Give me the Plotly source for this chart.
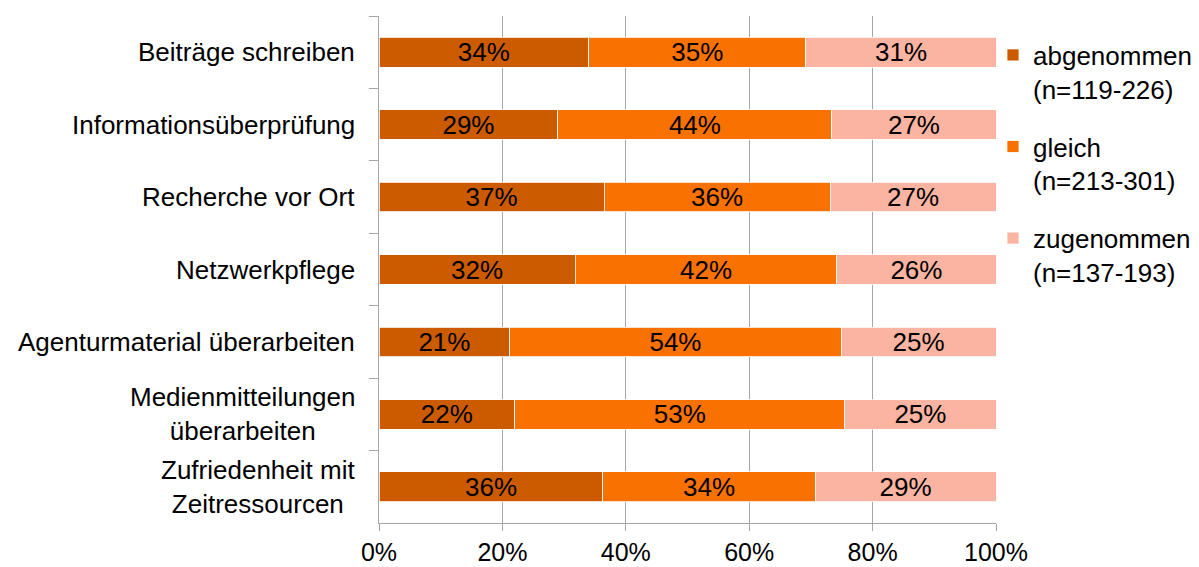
import plotly.graph_objects as go

categories = ["Beiträge schreiben", "Informationsüberprüfung", "Recherche vor Ort",
              "Netzwerkpflege", "Agenturmaterial überarbeiten",
              "Medienmitteilungen<br>überarbeiten", "Zufriedenheit mit<br>Zeitressourcen"]
cat_ids = ["c1", "c2", "c3", "c4", "c5", "c6", "c7"]

abgenommen = [34.0, 29.0, 36.5, 31.8, 21.2, 22.0, 36.3]
gleich = [35.2, 44.4, 36.6, 42.4, 53.7, 53.5, 34.4]
zugenommen = [30.8, 26.6, 26.9, 25.8, 25.1, 24.5, 29.3]

abgenommen_lbl = ["34%", "29%", "37%", "32%", "21%", "22%", "36%"]
gleich_lbl = ["35%", "44%", "36%", "42%", "54%", "53%", "34%"]
zugenommen_lbl = ["31%", "27%", "27%", "26%", "25%", "25%", "29%"]

series_names = ["abgenommen<br>(n=119-226)", "gleich<br>(n=213-301)", "zugenommen<br>(n=137-193)"]
colors = ["#CC5B00", "#F97100", "#FBB4A2"]

x_ticks = [0, 20, 40, 60, 80, 100]
x_tick_labels = ["0%", "20%", "40%", "60%", "80%", "100%"]

FONT = "Liberation Sans, Arial, sans-serif"
fig = go.Figure()
for i, (vals, lbls) in enumerate([(abgenommen, abgenommen_lbl), (gleich, gleich_lbl), (zugenommen, zugenommen_lbl)]):
    fig.add_trace(go.Bar(
        y=cat_ids, x=vals, orientation="h", name=series_names[i],
        legendgroup=f"g{i}",
        marker=dict(color=colors[i], line=dict(color="white", width=0.8)),
        text=lbls, textposition="inside", insidetextanchor="middle",
        constraintext="none", cliponaxis=False,
        textfont=dict(color="black", size=26, family=FONT),
        hoverinfo="skip",
    ))

for cid, lab in zip(cat_ids, categories):
    fig.add_annotation(x=0, xref="paper", y=cid, yref="y", text=lab,
                       showarrow=False, xanchor="right", xshift=-22, align="center",
                       font=dict(size=26, family=FONT, color="black"))

fig.update_layout(
    width=1199, height=567,
    margin=dict(l=379, r=203, t=16, b=44, autoexpand=False),
    barmode="stack", bargap=0.59,
    plot_bgcolor="white", paper_bgcolor="white",
    font=dict(family=FONT, size=26, color="black"),
    legend=dict(xref="container", yref="container",
                x=993 / 1199, xanchor="left", y=1 - 31.5 / 567, yanchor="top",
                valign="top", tracegroupgap=21,
                font=dict(size=26, family=FONT, color="black"),
                bgcolor="rgba(0,0,0,0)"),
    xaxis=dict(range=[0, 100], tickvals=x_ticks, ticktext=x_tick_labels,
               showgrid=True, gridcolor="#A6A6A6", gridwidth=1,
               showline=True, linecolor="#A6A6A6", linewidth=1,
               ticks="outside", ticklen=7, tickcolor="#A6A6A6",
               ticklabelstandoff=0, automargin=False,
               zeroline=False, tickfont=dict(size=25, family=FONT)),
    yaxis=dict(categoryorder="array", categoryarray=cat_ids, autorange="reversed",
               showticklabels=False, showgrid=False, automargin=False,
               showline=True, linecolor="#A6A6A6", linewidth=1,
               ticks="outside", ticklen=9, tickcolor="#A6A6A6", tickson="boundaries"),
)

fig.write_html("out.html")
